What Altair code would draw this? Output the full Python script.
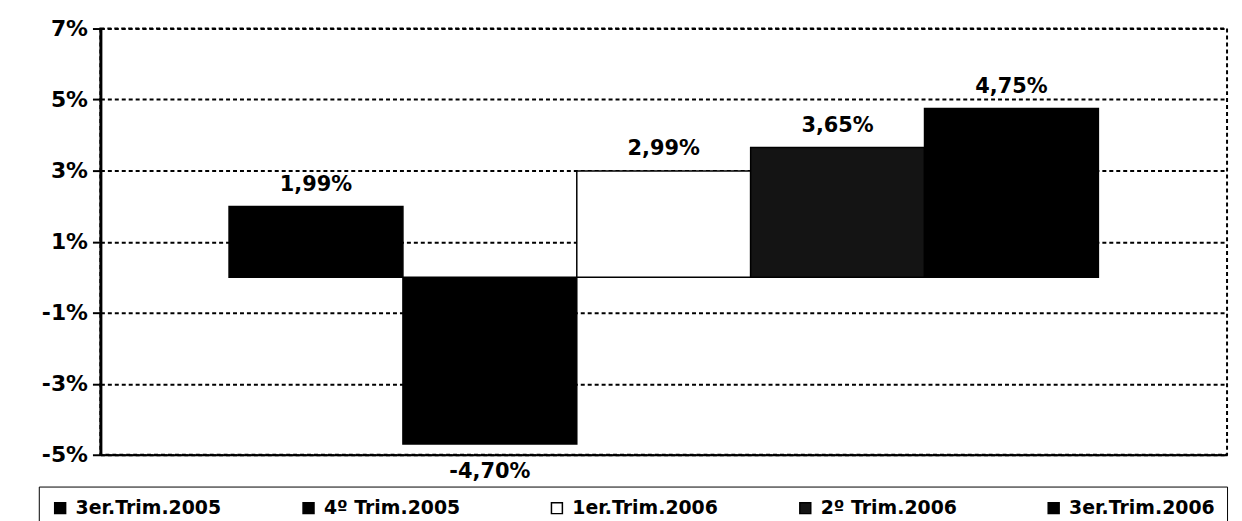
import altair as alt
import pandas as pd

series = ["3er.Trim.2005", "4º Trim.2005", "1er.Trim.2006", "2º Trim.2006", "3er.Trim.2006"]
values = [1.99, -4.70, 2.99, 3.65, 4.75]
labels = [f"{v:.2f}".replace(".", ",") + "%" for v in values]
tick_values = [-5, -3, -1, 1, 3, 5, 7]

colors = ["#000000", "#000000", "#ffffff", "#141414", "#000000"]
FONT = "DejaVu Sans"

df = pd.DataFrame({"serie": series, "valor": values, "label": labels})

x_enc = alt.X(
    "serie:N", sort=series,
    scale=alt.Scale(paddingInner=0, paddingOuter=0.74),
    axis=alt.Axis(labels=False, ticks=False, title=None, domain=True,
                  domainColor="black", domainWidth=2, grid=False),
)
y_enc = alt.Y(
    "valor:Q",
    scale=alt.Scale(domain=[-5, 7], nice=False, zero=False),
    axis=alt.Axis(values=tick_values, labelExpr="datum.value + '%'", title=None,
                  grid=True, gridDash=[4, 3], gridColor="black", gridWidth=2, gridOpacity=1,
                  domainColor="black", domainWidth=3, tickColor="black", tickWidth=2,
                  tickSize=8, labelFont=FONT, labelFontSize=22, labelFontWeight="bold",
                  labelColor="black", labelPadding=5),
)

base = alt.Chart(df).encode(x=x_enc)

bars = base.mark_bar(stroke="black", strokeWidth=1.5).encode(
    y=y_enc,
    color=alt.Color(
        "serie:N", sort=series,
        scale=alt.Scale(domain=series, range=colors),
        legend=alt.Legend(
            title=None, orient="none", legendX=-62, legendY=461,
            direction="horizontal", columns=5, symbolType="square", symbolSize=121,
            symbolStrokeColor="black", symbolStrokeWidth=1.5,
            labelFont=FONT, labelFontSize=19, labelFontWeight="bold", labelColor="black",
            labelOffset=6, gridAlign="all", columnPadding=78,
            strokeColor="black", padding=12,
        ),
    ),
)

zero = base.mark_rule(color="black", strokeWidth=2).encode(y=alt.datum(0))

txt_pos = base.transform_filter("datum.valor >= 0").mark_text(
    font=FONT, fontSize=21, fontWeight="bold", color="black",
    baseline="alphabetic", dy=-16,
).encode(y="valor:Q", text="label:N")

txt_neg = base.transform_filter("datum.valor < 0").mark_text(
    font=FONT, fontSize=21, fontWeight="bold", color="black",
    baseline="alphabetic", dy=34,
).encode(y="valor:Q", text="label:N")

chart = alt.layer(bars, zero, txt_pos, txt_neg).properties(
    width=1134, height=429,
    autosize=alt.AutoSizeParams(type="none"),
    padding={"left": 93, "top": 19, "right": 7, "bottom": 65},
    background="white",
).configure_view(stroke="black", strokeDash=[4, 3], strokeWidth=2)

chart.save("out.html", embed_options={"renderer": "svg", "actions": False})
